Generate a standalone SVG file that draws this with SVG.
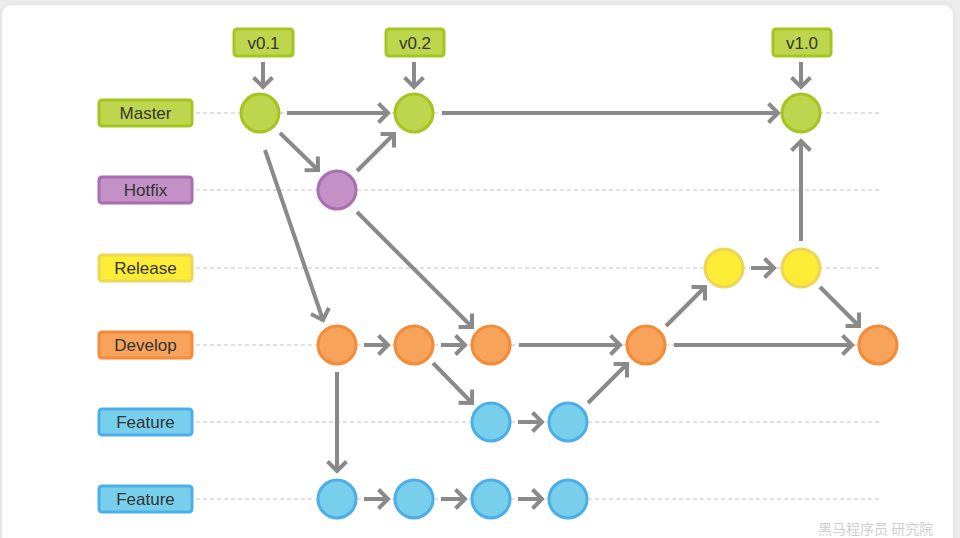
<svg xmlns="http://www.w3.org/2000/svg" width="960" height="538" viewBox="0 0 960 538">
<defs>
<marker id="ah" markerUnits="userSpaceOnUse" markerWidth="24" markerHeight="24" viewBox="-12 -12 24 24" refX="0" refY="0" orient="auto">
<path d="M-9.5,-9.5 L0,0 L-9.5,9.5" fill="none" stroke="#8a8a8a" stroke-width="4"/>
</marker>
<filter id="sh" x="-5%" y="-5%" width="110%" height="110%">
<feGaussianBlur stdDeviation="2"/>
</filter>
</defs>
<style>
.lbl{font-family:"Liberation Sans",Arial,sans-serif;font-size:17px;fill:#333333;text-anchor:middle}
.ver{font-family:"Liberation Sans",Arial,sans-serif;font-size:17px;fill:#333333;text-anchor:middle}
.dash{stroke:#c4c4c4;stroke-width:1;stroke-dasharray:4 3;fill:none}
.con{stroke:#8a8a8a;stroke-width:4;fill:none;marker-end:url(#ah)}
.g{fill:#bed64e;stroke:#a2c61f;stroke-width:3}
.p{fill:#c391c6;stroke:#a96db1;stroke-width:3}
.y{fill:#fdec36;stroke:#edd557;stroke-width:3}
.o{fill:#f7a35c;stroke:#f38b37;stroke-width:3}
.b{fill:#78cfec;stroke:#4caee8;stroke-width:3}
.wm{font-family:"Noto Sans CJK SC",sans-serif;font-size:14px;fill:#cfcfcf}
</style>
<rect x="0" y="0" width="960" height="538" fill="#ececec"/>
<rect x="2" y="5" width="951" height="560" rx="9" fill="#d8d8d8" filter="url(#sh)"/>
<rect x="2" y="5" width="951" height="560" rx="9" fill="#ffffff"/>

<g id="lanes">
<line class="dash" x1="196" y1="113" x2="880" y2="113"/>
<line class="dash" x1="196" y1="190" x2="880" y2="190"/>
<line class="dash" x1="196" y1="268" x2="880" y2="268"/>
<line class="dash" x1="196" y1="345" x2="880" y2="345"/>
<line class="dash" x1="196" y1="422" x2="880" y2="422"/>
<line class="dash" x1="196" y1="499" x2="880" y2="499"/>
</g>

<g id="label-master"><rect class="g" x="99" y="100" width="93" height="26" rx="3"/><text class="lbl" x="145.5" y="119">Master</text></g>
<g id="label-hotfix"><rect class="p" x="99" y="177" width="93" height="26" rx="3"/><text class="lbl" x="145.5" y="196">Hotfix</text></g>
<g id="label-release"><rect class="y" x="99" y="255" width="93" height="26" rx="3"/><text class="lbl" x="145.5" y="274">Release</text></g>
<g id="label-develop"><rect class="o" x="99" y="332" width="93" height="26" rx="3"/><text class="lbl" x="145.5" y="351">Develop</text></g>
<g id="label-feature1"><rect class="b" x="99" y="409" width="93" height="26" rx="3"/><text class="lbl" x="145.5" y="428">Feature</text></g>
<g id="label-feature2"><rect class="b" x="99" y="486" width="93" height="26" rx="3"/><text class="lbl" x="145.5" y="505">Feature</text></g>

<g id="tag-v01"><rect class="g" x="234" y="29" width="59" height="27" rx="3"/><text class="ver" x="263.5" y="48.5">v0.1</text></g>
<g id="tag-v02"><rect class="g" x="386" y="29" width="58" height="27" rx="3"/><text class="ver" x="415" y="48.5">v0.2</text></g>
<g id="tag-v10"><rect class="g" x="773" y="29" width="58" height="27" rx="3"/><text class="ver" x="802" y="48.5">v1.0</text></g>

<g id="connectors">
<line class="con" x1="263" y1="62" x2="263" y2="87"/>
<line class="con" x1="414" y1="62" x2="414" y2="87"/>
<line class="con" x1="801" y1="62" x2="801" y2="87"/>
<line class="con" x1="287" y1="113" x2="388" y2="113"/>
<line class="con" x1="280" y1="133" x2="318" y2="170"/>
<line class="con" x1="357" y1="171" x2="394" y2="134"/>
<line class="con" x1="442" y1="113" x2="778" y2="113"/>
<line class="con" x1="265" y1="150" x2="323" y2="320"/>
<line class="con" x1="357" y1="212" x2="472" y2="327"/>
<line class="con" x1="364" y1="345" x2="388" y2="345"/>
<line class="con" x1="441" y1="345" x2="465" y2="345"/>
<line class="con" x1="433" y1="363" x2="472" y2="403"/>
<line class="con" x1="519" y1="345" x2="620" y2="345"/>
<line class="con" x1="518" y1="422" x2="542" y2="422"/>
<line class="con" x1="588" y1="403" x2="627" y2="364"/>
<line class="con" x1="666" y1="326" x2="705" y2="287"/>
<line class="con" x1="674" y1="345" x2="852" y2="345"/>
<line class="con" x1="751" y1="268" x2="774" y2="268"/>
<line class="con" x1="801" y1="241" x2="801" y2="141"/>
<line class="con" x1="820" y1="287" x2="859" y2="326"/>
<line class="con" x1="337" y1="372" x2="337" y2="471"/>
<line class="con" x1="364" y1="499" x2="388" y2="499"/>
<line class="con" x1="441" y1="499" x2="465" y2="499"/>
<line class="con" x1="518" y1="499" x2="542" y2="499"/>
</g>

<g id="master-commits">
<circle class="g" cx="260" cy="113" r="19"/>
<circle class="g" cx="414" cy="113" r="19"/>
<circle class="g" cx="801" cy="113" r="19"/>
</g>
<g id="hotfix-commits"><circle class="p" cx="337" cy="190" r="19"/></g>
<g id="release-commits">
<circle class="y" cx="724" cy="268" r="19"/>
<circle class="y" cx="801" cy="268" r="19"/>
</g>
<g id="develop-commits">
<circle class="o" cx="337" cy="345" r="19"/>
<circle class="o" cx="414" cy="345" r="19"/>
<circle class="o" cx="491" cy="345" r="19"/>
<circle class="o" cx="646" cy="345" r="19"/>
<circle class="o" cx="878" cy="345" r="19"/>
</g>
<g id="feature1-commits">
<circle class="b" cx="491" cy="422" r="19"/>
<circle class="b" cx="568" cy="422" r="19"/>
</g>
<g id="feature2-commits">
<circle class="b" cx="337" cy="499" r="19"/>
<circle class="b" cx="414" cy="499" r="19"/>
<circle class="b" cx="491" cy="499" r="19"/>
<circle class="b" cx="568" cy="499" r="19"/>
</g>
<text class="wm" x="818" y="534">黑马程序员 研究院</text>
</svg>
